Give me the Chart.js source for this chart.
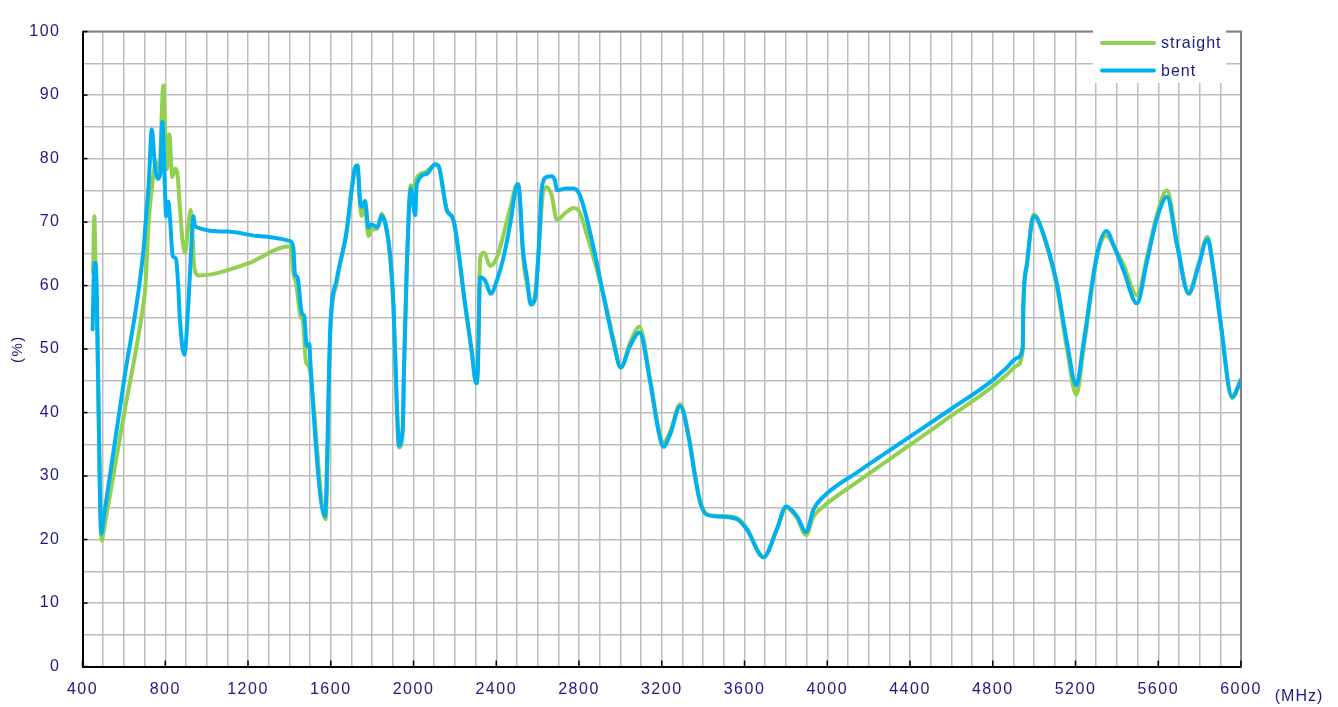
<!DOCTYPE html>
<html>
<head>
<meta charset="utf-8">
<script src="https://cdn.jsdelivr.net/npm/chart.js@4.4.1/dist/chart.umd.min.js"></script>
<style>
  html, body { margin: 0; padding: 0; background: #fff; }
  canvas { display: block; }
</style>
</head>
<body>
<canvas id="chart" width="1338" height="707"></canvas>
<script>
// frequency (MHz) / efficiency (%)
const straightFreq = [451,457,462,468,494,500,600,696,704,720,735,750,759,771,791,807,820,834,847,858,871,884,896,912,923,930,940,960,1030,1194,1403,1422,1432,1455,1465,1480,1490,1500,1575,1598,1629,1677,1702,1718,1729,1742,1750,1758,1766,1782,1798,1825,1847,1867,1887,1903,1919,1930,1948,1954,1967,1987,2000,2016,2064,2104,2120,2161,2193,2249,2282,2303,2311,2318,2322,2341,2370,2403,2435,2467,2503,2512,2531,2548,2572,2588,2604,2628,2644,2668,2693,2733,2773,2797,2838,2926,2967,3002,3047,3092,3144,3184,3208,3241,3289,3330,3361,3386,3418,3482,3563,3611,3692,3756,3801,3853,3898,3933,3974,4159,4400,4600,4788,4869,4917,4945,4948,4965,4997,5013,5070,5110,5159,5204,5239,5304,5349,5392,5432,5497,5546,5594,5642,5690,5747,5795,5838,5867,5900,5957,6000];
const straightVal = [62.0,70.9,65.0,57.0,19.8,20.9,39.6,57.5,59.8,70.1,75.3,78.9,79.4,78.3,91.5,78.3,83.8,77.1,78.4,77.8,72.2,67.0,65.2,69.6,71.9,69.0,63.0,61.6,61.8,63.4,66.2,61.5,60.5,55.0,54.5,48.0,47.5,46.5,23.2,52.5,60.5,68.6,75.3,78.6,78.9,72.5,71.0,71.8,72.0,67.8,68.8,69.0,71.3,69.3,64.5,56.5,41.0,34.5,37.0,46.5,62.0,75.8,75.5,77.0,78.0,79.0,78.8,71.9,70.3,57.0,49.5,44.6,47.0,60.0,64.2,65.2,63.1,64.4,68.0,72.2,76.0,74.5,64.0,60.3,57.2,58.5,65.0,75.0,75.5,74.2,70.3,71.4,72.2,71.9,68.0,57.5,51.5,47.1,51.0,53.5,45.3,37.6,35.3,37.0,41.3,36.5,30.2,26.0,24.0,23.7,23.4,21.8,17.3,21.5,25.0,23.4,20.7,23.6,25.0,29.4,34.9,39.5,43.8,46.0,47.4,49.8,56.5,63.0,71.2,70.8,65.2,59.8,50.0,42.8,50.0,64.5,67.9,65.8,63.3,58.5,64.5,71.2,75.0,67.0,59.0,63.4,67.7,62.5,54.3,42.3,45.0];

const bentFreq = [449,457,463,468,491,500,600,696,704,720,735,750,765,775,786,799,804,815,823,836,852,863,871,892,912,928,936,944,1100,1250,1403,1419,1427,1439,1460,1472,1484,1497,1500,1572,1598,1629,1677,1702,1718,1729,1742,1750,1766,1782,1798,1825,1847,1867,1887,1903,1919,1930,1948,1954,1967,1987,2008,2016,2064,2104,2120,2161,2193,2249,2282,2303,2311,2322,2346,2374,2403,2435,2467,2503,2512,2528,2548,2567,2588,2604,2620,2644,2668,2684,2693,2741,2773,2805,2870,2926,2967,3002,3047,3092,3144,3184,3208,3241,3289,3330,3361,3386,3418,3482,3563,3611,3692,3756,3801,3853,3898,3933,3974,4159,4400,4600,4788,4869,4917,4945,4948,4965,4997,5013,5070,5110,5159,5204,5239,5304,5349,5392,5432,5497,5546,5594,5642,5690,5747,5795,5838,5867,5900,5957,6000];
const bentVal = [53.1,63.5,63.6,60.0,20.9,22.9,44.9,66.0,69.5,76.0,84.6,78.9,76.8,77.5,85.8,74.7,70.9,73.2,70.6,64.7,64.2,59.8,54.6,49.1,57.2,67.5,70.9,69.3,68.5,67.8,67.0,66.0,61.8,61.3,55.7,55.1,50.5,50.8,48.7,23.7,53.6,61.0,68.6,75.3,78.6,78.9,73.2,72.4,73.3,69.1,69.6,69.2,71.0,69.3,64.9,57.2,41.7,34.8,37.6,46.9,62.4,75.3,71.1,76.0,77.6,79.1,78.9,71.9,70.3,57.2,49.5,44.6,46.9,61.3,60.8,58.7,60.8,64.4,69.6,76.0,74.8,66.0,61.3,57.0,58.0,64.9,75.3,77.1,77.2,76.5,75.0,75.3,75.3,74.2,66.0,57.2,51.0,47.1,50.5,52.6,44.8,37.1,34.6,36.6,41.0,36.1,29.9,25.8,23.9,23.6,23.2,21.6,17.2,21.6,25.2,23.7,21.2,24.7,26.5,30.9,36.2,40.6,44.8,47.1,48.6,50.3,57.0,63.4,70.9,70.6,65.5,60.3,51.0,44.3,51.0,64.9,68.6,65.7,62.4,57.2,63.9,70.6,74.0,66.5,58.7,63.1,67.3,62.4,54.6,42.5,45.2];

const seriesNames = ['straight', 'bent'];
const seriesColors = ['#92d050', '#00b0f0'];
const xTickVals = [400,800,1200,1600,2000,2400,2800,3200,3600,4000,4400,4800,5200,5600,6000];
const yTickVals = [0,10,20,30,40,50,60,70,80,90,100];

const navy = '#1b1b84';
const fontFamily = '"Liberation Sans", Arial, sans-serif';

const toPoints = (xs, ys) => xs.map((f, i) => ({ x: f, y: ys[i] }));

const decor = {
  id: 'decor',
  beforeDraw(chart) {
    chart.ctx.letterSpacing = '1.5px';
  },
  afterDraw(chart) {
    const { ctx, chartArea: a, scales } = chart;
    ctx.save();
    ctx.letterSpacing = '0px';
    // grey frame on top and right
    ctx.strokeStyle = '#808080';
    ctx.lineWidth = 2;
    ctx.beginPath();
    ctx.moveTo(a.left, a.top);
    ctx.lineTo(a.right, a.top);
    ctx.lineTo(a.right, a.bottom);
    ctx.stroke();
    // inward tick marks
    ctx.strokeStyle = '#000';
    ctx.lineWidth = 1.5;
    xTickVals.forEach(v => {
      const px = scales.x.getPixelForValue(v);
      ctx.beginPath();
      ctx.moveTo(px, a.bottom);
      ctx.lineTo(px, a.bottom - 6);
      ctx.stroke();
    });
    yTickVals.forEach(v => {
      const py = scales.y.getPixelForValue(v);
      ctx.beginPath();
      ctx.moveTo(a.left, py);
      ctx.lineTo(a.left + 5, py);
      ctx.stroke();
    });
    // legend
    ctx.fillStyle = '#fff';
    ctx.fillRect(1093, 30, 133, 53);
    ctx.lineWidth = 4;
    ctx.lineCap = 'round';
    ctx.font = '16px ' + fontFamily;
    ctx.textBaseline = 'middle';
    ctx.letterSpacing = '1px';
    seriesNames.forEach((name, i) => {
      const ly = 43 + i * 27.5;
      ctx.strokeStyle = seriesColors[i];
      ctx.beginPath();
      ctx.moveTo(1102, ly);
      ctx.lineTo(1154, ly);
      ctx.stroke();
      ctx.fillStyle = navy;
      ctx.textAlign = 'left';
      ctx.fillText(name, 1161, ly + 1);
    });
    // unit label for x axis
    ctx.font = '16px ' + fontFamily;
    ctx.textAlign = 'center';
    ctx.fillText('(MHz)', 1299, 697);
    ctx.restore();
  }
};

new Chart(document.getElementById('chart'), {
  type: 'line',
  data: {
    datasets: [
      {
        label: seriesNames[0],
        data: toPoints(straightFreq, straightVal),
        borderColor: seriesColors[0],
        backgroundColor: seriesColors[0],
        borderWidth: 4,
        pointRadius: 0,
        cubicInterpolationMode: 'monotone',
        borderJoinStyle: 'round',
        borderCapStyle: 'round',
        order: 2
      },
      {
        label: seriesNames[1],
        data: toPoints(bentFreq, bentVal),
        borderColor: seriesColors[1],
        backgroundColor: seriesColors[1],
        borderWidth: 4,
        pointRadius: 0,
        cubicInterpolationMode: 'monotone',
        borderJoinStyle: 'round',
        borderCapStyle: 'round',
        order: 1
      }
    ]
  },
  options: {
    responsive: false,
    devicePixelRatio: 1,
    animation: false,
    layout: { padding: { left: 0, top: 20, right: 97, bottom: 0 } },
    plugins: {
      legend: { display: false },
      tooltip: { enabled: false }
    },
    scales: {
      x: {
        type: 'linear',
        min: 400,
        max: 6000,
        afterFit: s => { s.height = 40.5; },
        grid: { color: '#bdbdbd', lineWidth: 1.5, drawTicks: false },
        border: { color: '#000', width: 2 },
        ticks: {
          stepSize: 100,
          autoSkip: false,
          maxRotation: 0,
          padding: 13,
          color: navy,
          font: { family: fontFamily, size: 16 },
          callback: v => xTickVals.includes(v) ? String(v) : ''
        }
      },
      y: {
        min: 0,
        max: 100,
        afterFit: s => { s.width = 82.5; },
        grid: { color: '#bdbdbd', lineWidth: 1.5, drawTicks: false },
        border: { color: '#000', width: 2 },
        title: {
          display: true,
          text: '(%)',
          color: navy,
          font: { family: fontFamily, size: 15 },
          padding: { top: 9, bottom: 0 }
        },
        ticks: {
          stepSize: 5,
          autoSkip: false,
          padding: 22,
          color: navy,
          font: { family: fontFamily, size: 16 },
          callback: v => yTickVals.includes(v) ? String(v) : ''
        }
      }
    }
  },
  plugins: [decor]
});
</script>
</body>
</html>
